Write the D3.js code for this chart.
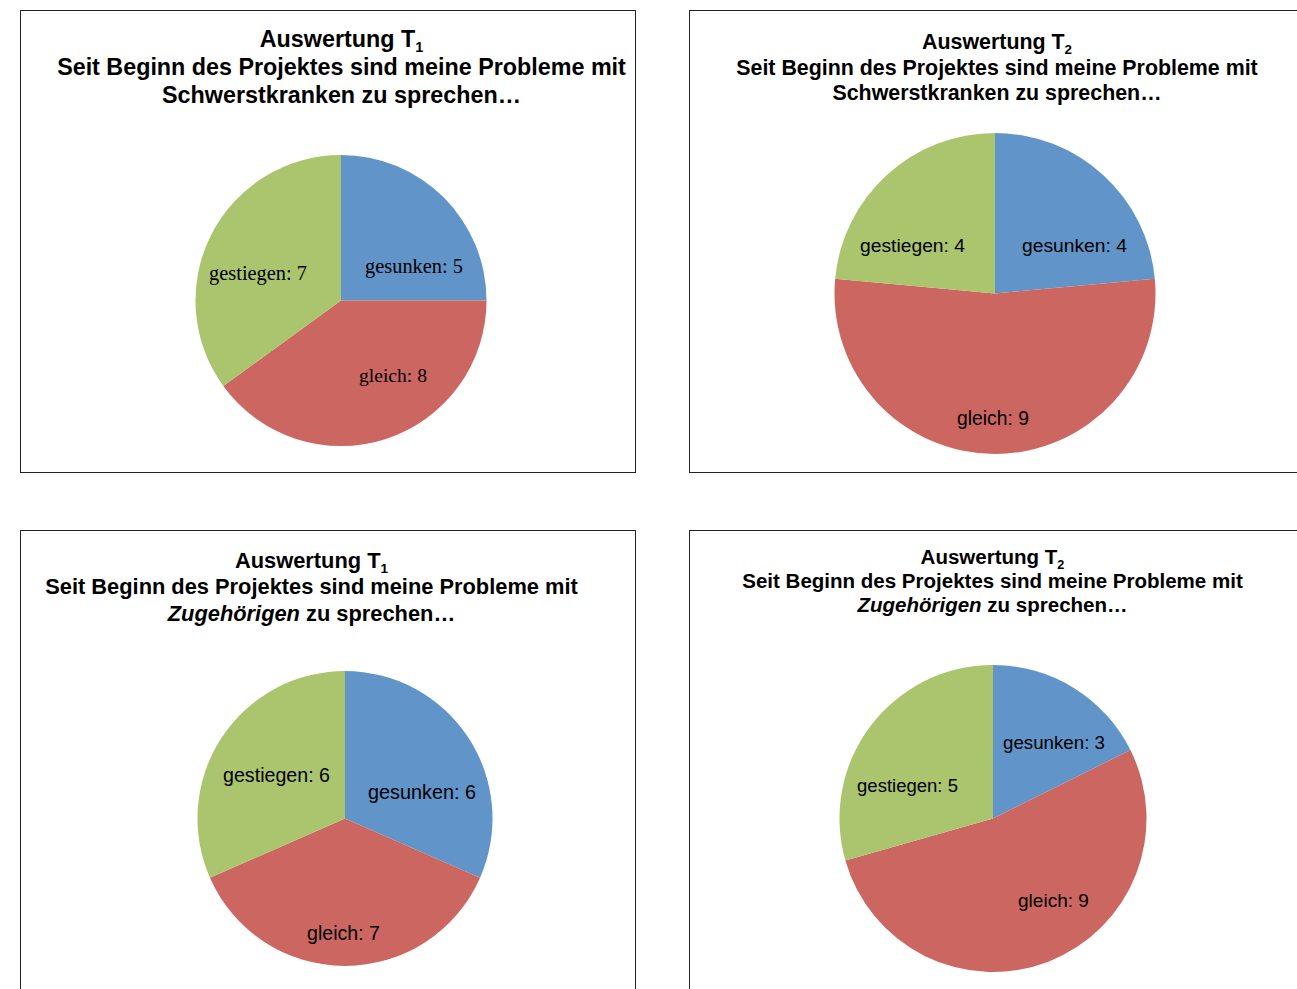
<!DOCTYPE html>
<html>
<head>
<meta charset="utf-8">
<script src="https://cdn.jsdelivr.net/npm/d3@7"></script>
<style>
  html, body { margin: 0; padding: 0; background: #fff; }
  svg { display: block; }
</style>
</head>
<body>
<svg id="chart" width="1297" height="989"></svg>
<script>
// ---------- data ----------
const categories = ["gesunken", "gleich", "gestiegen"];
const valuesT1Schwerst = [5, 8, 7];
const valuesT2Schwerst = [4, 9, 4];
const valuesT1Zugeh = [6, 7, 6];
const valuesT2Zugeh = [3, 9, 5];
const titleLine1 = ["Auswertung T", "Auswertung T", "Auswertung T", "Auswertung T"];
const titleSub = ["1", "2", "1", "2"];
const titleLine2 = "Seit Beginn des Projektes sind meine Probleme mit";
const titleGroup = ["Schwerstkranken", "Schwerstkranken", "Zugehörigen", "Zugehörigen"];
const titleTail = " zu sprechen…";
const colors = ["#6195C9", "#CC6660", "#ABC46E"];

// ---------- layout ----------
const panels = [
  { values: valuesT1Schwerst, box: [20.5, 10.5, 615, 462], cx: 341, cy: 300.5, r: 145.5,
    tx: 341.5, ty: [47, 75, 103], tw: 569, italicGroup: false, labelFont: "Liberation Serif, Times New Roman, serif",
    labels: [[73, -34.5, 98], [52, 74.5, 68], [-83, -27.5, 98]] },
  { values: valuesT2Schwerst, box: [689.5, 10.5, 700, 462], cx: 995, cy: 293.5, r: 160.5,
    tx: 997, ty: [49, 75, 100], tw: 522, italicGroup: false, labelFont: "Liberation Sans, Arial, sans-serif",
    labels: [[79.5, -48.5, 105], [-2, 124.5, 72], [-82.5, -48.5, 105]] },
  { values: valuesT1Zugeh, box: [20.5, 530.5, 615, 500], cx: 345, cy: 818.5, r: 147.5,
    tx: 311.5, ty: [568, 594, 621], tw: 533, italicGroup: true, labelFont: "Liberation Sans, Arial, sans-serif",
    labels: [[77, -26.5, 108], [-1.5, 114.5, 73], [-68.5, -43.5, 107]] },
  { values: valuesT2Zugeh, box: [689.5, 530.5, 700, 500], cx: 993, cy: 818.5, r: 153.5,
    tx: 992.5, ty: [564, 588, 612], tw: 501, italicGroup: true, labelFont: "Liberation Sans, Arial, sans-serif",
    labels: [[61, -76.5, 102], [60.5, 82, 71], [-85.5, -33.5, 101]] }
];

const svg = d3.select("#chart");
const pie = d3.pie().sort(null).startAngle(0).endAngle(2 * Math.PI);
const color = d3.scaleOrdinal().domain(categories).range(colors);

function fitSize(textSel, target) {
  const w = textSel.node().getComputedTextLength();
  const fs = parseFloat(textSel.attr("font-size"));
  return fs * target / w;
}

panels.forEach((p, i) => {
  const g = svg.append("g");
  g.append("rect")
    .attr("x", p.box[0]).attr("y", p.box[1])
    .attr("width", p.box[2]).attr("height", p.box[3])
    .attr("fill", "#fff").attr("stroke", "#222").attr("stroke-width", 1);

  // title font size fitted to line 2 width
  const probe = g.append("text").attr("font-family", "Liberation Sans, Arial, sans-serif")
    .attr("font-weight", "bold").attr("font-size", 20).text(titleLine2);
  const tfs = fitSize(probe, p.tw);
  probe.remove();

  const title = g.append("g")
    .attr("font-family", "Liberation Sans, Arial, sans-serif")
    .attr("font-weight", "bold").attr("font-size", tfs)
    .attr("text-anchor", "middle").attr("fill", "#000");
  const l1 = title.append("text").attr("x", p.tx).attr("y", p.ty[0]);
  l1.append("tspan").text(titleLine1[i]);
  l1.append("tspan").attr("font-size", tfs * 0.62).attr("dy", tfs * 0.22).text(titleSub[i]);
  title.append("text").attr("x", p.tx).attr("y", p.ty[1]).text(titleLine2);
  const l3 = title.append("text").attr("x", p.tx).attr("y", p.ty[2]);
  l3.append("tspan").attr("font-style", p.italicGroup ? "italic" : "normal").text(titleGroup[i]);
  l3.append("tspan").text(titleTail);

  const arcs = pie(p.values);
  const arc = d3.arc().innerRadius(0).outerRadius(p.r);
  const pg = g.append("g").attr("transform", `translate(${p.cx},${p.cy})`);
  pg.selectAll("path").data(arcs).join("path")
    .attr("d", arc)
    .attr("fill", (d, j) => color(categories[j]));

  pg.selectAll("text").data(arcs).join("text")
    .attr("font-family", p.labelFont)
    .attr("font-size", 18)
    .attr("fill", "#000")
    .attr("text-anchor", "middle")
    .attr("dominant-baseline", "central")
    .attr("x", (d, j) => p.labels[j][0])
    .attr("y", (d, j) => p.labels[j][1])
    .text((d, j) => `${categories[j]}: ${d.data}`)
    .each(function (d, j) {
      const t = d3.select(this);
      t.attr("font-size", fitSize(t, p.labels[j][2]));
    });
});
</script>
</body>
</html>
